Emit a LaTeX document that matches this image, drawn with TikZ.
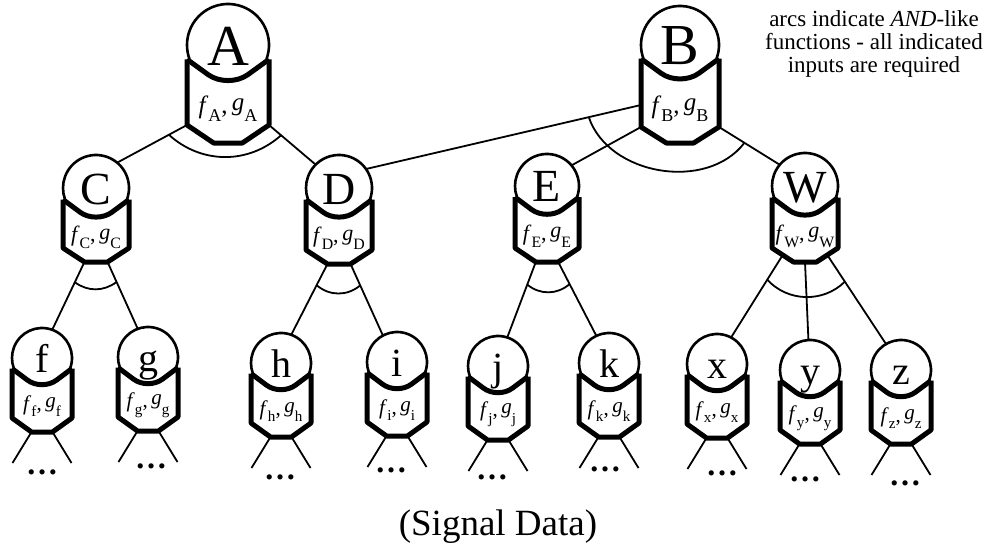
\documentclass[tikz,border=0pt]{standalone}
\usepackage{fontspec}
\setmainfont{Liberation Serif}
\usepackage{graphicx}
\usetikzlibrary{calc}
\tikzset{
  conn/.style={line width=1.8pt},
  bodyline/.style={line width=5pt, line join=round},
  ring/.style={line width=2.6pt},
  dotsnode/.style={font=\fontsize{32}{32}\selectfont\bfseries, inner sep=0pt},
  note/.style={font=\fontsize{23}{23}\selectfont, align=center, inner sep=0pt},
}
\newcommand\fglab[1]{\textit{f}\raisebox{-0.32em}{\scalebox{0.72}{#1}},\,\raisebox{0.12em}{\textit{g}}\raisebox{-0.32em}{\scalebox{0.72}{#1}}}
% #1 name, #2 x, #3 y (down), #4 r, #5 body length, #6 chevron depth, #7 letter size, #8 label size
\newcommand\tnode[8]{%
\begin{scope}[shift={(#2,-#3)}]
  \pgfmathsetmacro\rc{0.6*#4}
  \pgfmathsetmacro\dd{2*#4}
  \draw[bodyline] (-#4,{-0.35*#4}) -- (-#4,-#5) -- ({-0.35*#4},{-#5-#6}) -- ({0.35*#4},{-#5-#6}) -- (#4,-#5) -- (#4,{-0.35*#4});
  \draw[bodyline, rounded corners=\rc pt] (-#4,{-0.35*#4}) -- (0,{-#4-3}) -- (#4,{-0.35*#4});
  \draw[ring] ({#4*cos(20)},{-#4*sin(20)}) arc[start angle=-20, end angle=200, radius=#4pt];
  \node[circle, minimum size=\dd pt, inner sep=0pt] (#1) at (0,0) {};
  \node[anchor=base, inner sep=0pt, font=\fontsize{#7}{#7}\selectfont] (#1-let) at (0,{-0.35*#4-0.1*#7}) {#1};
  \node[inner sep=0pt, font=\fontsize{#8}{#8}\selectfont] (#1-lab) at (0,{-(#4+#5)/2-3}) {\fglab{#1}};
  \coordinate (#1-l) at (-#4,-#5);
  \coordinate (#1-r) at (#4,-#5);
  \coordinate (#1-bl) at ({-0.35*#4},{-#5-#6});
  \coordinate (#1-br) at ({0.35*#4},{-#5-#6});
  \coordinate (#1-b) at (0,{-#5-#6});
\end{scope}}
% #1 leaf name, #2 dots x, #3 dots y (down)
\newcommand\leafout[3]{%
  \path (#1-bl) ++(-19,-31) coordinate (#1-ol);
  \path (#1-br) ++(19,-31) coordinate (#1-or);
  \draw[conn] (#1-bl) -- (#1-ol);
  \draw[conn] (#1-br) -- (#1-or);
  \node[dotsnode] (#1-dots) at (#2,-#3) {…};
}
\begin{document}
\begin{tikzpicture}[x=1pt,y=1pt]
\useasboundingbox (0,0) rectangle (989,-546);
% level 1
\tnode{A}{228}{45}{41}{80}{18}{58}{25}
\tnode{B}{680}{45}{39}{82}{16}{58}{25}
% level 2
\tnode{C}{96}{188}{33}{60}{14}{46}{22}
\tnode{D}{339}{188}{33}{62}{14}{46}{22}
\tnode{E}{547}{186}{32}{62}{14}{46}{22}
\tnode{W}{805}{186}{33}{62}{14}{46}{22}
% leaves
\tnode{f}{42}{358}{30}{60}{14}{40}{21}
\tnode{g}{148}{357}{30}{60}{14}{40}{21}
\tnode{h}{281}{363}{30}{60}{14}{40}{21}
\tnode{i}{397}{362}{30}{60}{14}{40}{21}
\tnode{j}{498}{366}{30}{60}{14}{40}{21}
\tnode{k}{609}{363}{30}{60}{14}{40}{21}
\tnode{x}{717}{364}{30}{60}{14}{40}{21}
\tnode{y}{810}{370}{30}{60}{14}{40}{21}
\tnode{z}{901}{370}{30}{60}{14}{40}{21}
% connectors
\path (B) ++(-39,-60) coordinate (B-s);
\draw[conn] (A-l) -- (C.50);
\draw[conn] (A-r) -- (D.135);
\draw[conn] (B-s) -- (D.35);
\draw[conn] (B-l) -- (E.40);
\draw[conn] (B-r) -- (W.140);
\draw[conn] (C-bl) -- (f.70);
\draw[conn] (C-br) -- (g.110);
\draw[conn] (D-bl) -- (h.70);
\draw[conn] (D-br) -- (i.118);
\draw[conn] (E-bl) -- (j.72);
\draw[conn] (E-br) -- (k.115);
\coordinate (W-bl2) at ($(W-l)!0.5!(W-bl)$);
\coordinate (W-br2) at ($(W-r)!0.5!(W-br)$);
\draw[conn] (W-bl2) -- (x.62);
\draw[conn] (W-b) -- (y.93);
\draw[conn] (W-br2) -- (z.120);
% AND arcs
\draw[conn] ($(A-l)!0.26!(C.50)$) to[bend right=42] ($(A-r)!0.26!(D.135)$);
\draw[conn] ($(B-s)!0.19!(D.35)$) to[bend right=62] ($(B-r)!0.42!(W.140)$);
\draw[conn] ($(C-bl)!0.3!(f.70)$) to[bend right=36] ($(C-br)!0.3!(g.110)$);
\draw[conn] ($(D-bl)!0.3!(h.70)$) to[bend right=40] ($(D-br)!0.3!(i.118)$);
\draw[conn] ($(E-bl)!0.3!(j.72)$) to[bend right=40] ($(E-br)!0.3!(k.115)$);
\draw[conn] ($(W-bl2)!0.3!(x.62)$) to[bend right=46] ($(W-br2)!0.3!(z.120)$);
% leaf outputs
\leafout{f}{42}{472}
\leafout{g}{151}{466}
\leafout{h}{280}{477}
\leafout{i}{391}{470}
\leafout{j}{492}{477}
\leafout{k}{605}{469}
\leafout{x}{722}{473}
\leafout{y}{805}{479}
\leafout{z}{905}{483}
% texts
\node[note] (noteA) at (874,-44) {arcs indicate \textit{AND}-like\\functions - all indicated\\inputs are required};
\node[inner sep=0pt, font=\fontsize{37}{37}\selectfont] (signal) at (498,-527) {(Signal Data)};
\end{tikzpicture}
\end{document}
